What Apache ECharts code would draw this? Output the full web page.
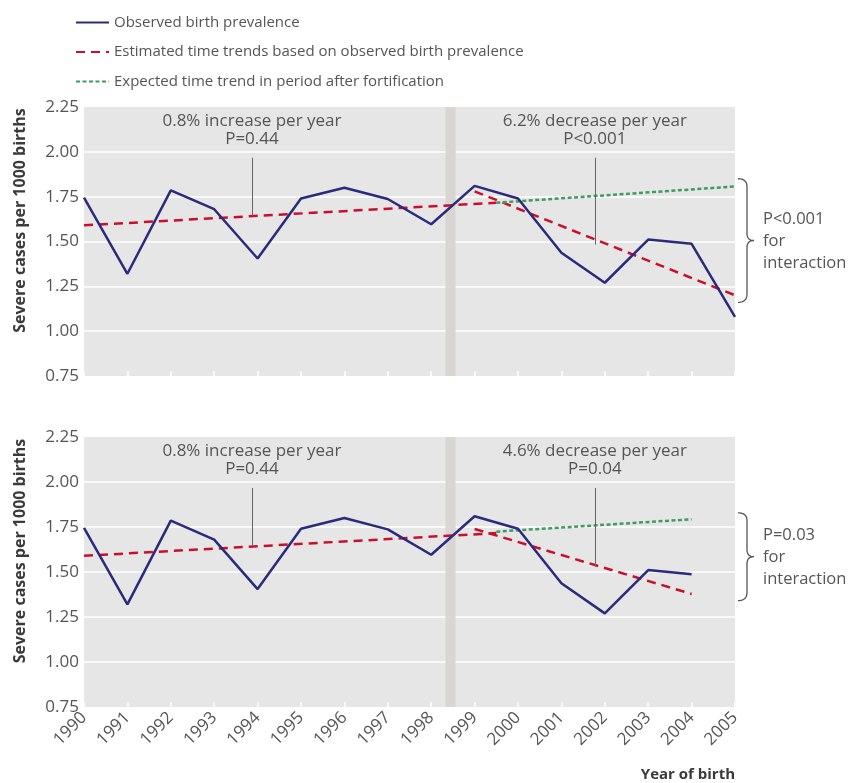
<!DOCTYPE html>
<html>
<head>
<meta charset="utf-8">
<script src="https://cdn.jsdelivr.net/npm/echarts@6/dist/echarts.min.js"></script>
<style>
html,body{margin:0;padding:0;background:#fff;}
#chart{width:849px;height:783px;}
</style>
</head>
<body>
<div id="chart"></div>
<script>
// ---- data ----
const years = [1990,1991,1992,1993,1994,1995,1996,1997,1998,1999,2000,2001,2002,2003,2004,2005];
const observedTop = [1.745,1.32,1.785,1.68,1.405,1.74,1.80,1.737,1.596,1.81,1.74,1.437,1.27,1.511,1.487,1.08];
const observedBottom = [1.745,1.32,1.785,1.68,1.405,1.74,1.80,1.737,1.596,1.81,1.74,1.437,1.27,1.511,1.487];
const preTrendX = [1990, 1999.5];
const preTrendY = [1.59, 1.716];
const postTrendTopX = [1999, 2005];
const postTrendTopY = [1.78, 1.20];
const expectedTopX = [1999.5, 2005];
const expectedTopY = [1.716, 1.807];
const postTrendBottomX = [1999, 2004];
const postTrendBottomY = [1.739, 1.378];
const expectedBottomX = [1999.5, 2004];
const expectedBottomY = [1.724, 1.793];
const fortification = [1998.33, 1998.56];
const annTop = [
  {x: 1993.87, yTop: 1.967, yBot: 1.642, lines: ['0.8% increase per year', 'P=0.44'], ty: 2.12},
  {x: 2001.77, yTop: 1.967, yBot: 1.483, lines: ['6.2% decrease per year', 'P<0.001'], ty: 2.12}
];
const annBottom = [
  {x: 1993.87, yTop: 1.967, yBot: 1.645, lines: ['0.8% increase per year', 'P=0.44'], ty: 2.12},
  {x: 2001.77, yTop: 1.967, yBot: 1.53, lines: ['4.6% decrease per year', 'P=0.04'], ty: 2.12}
];
const braceTop = {yT: 1.85, yB: 1.161, text: 'P<0.001\nfor\ninteraction'};
const braceBottom = {yT: 1.829, yB: 1.341, text: 'P=0.03\nfor\ninteraction'};
const names = ['Observed birth prevalence', 'Estimated time trends based on observed birth prevalence', 'Expected time trend in period after fortification'];

// ---- style ----
const FONT = '"Open Sans", "Noto Sans", sans-serif';
const TXT = '#555555';
const BLUE = '#2b2a7c';
const RED = '#c8102e';
const GREEN = '#3f9b62';

const zip = (xs, ys) => xs.map((x, i) => [x, ys[i]]);

function xAxis(idx, showLabels) {
  return {
    type: 'value', gridIndex: idx, min: 1990, max: 2005, interval: 1,
    axisLine: {show: false},
    axisTick: {show: true, inside: true, length: 5, lineStyle: {color: '#ffffff', width: 1.5}},
    splitLine: {show: false},
    axisLabel: {show: showLabels, rotate: 45, margin: 8, fontSize: 17, color: TXT, fontFamily: FONT,
      formatter: v => String(v)}
  };
}
function yAxis(idx) {
  return {
    type: 'value', gridIndex: idx, min: 0.75, max: 2.25, interval: 0.25,
    axisLine: {show: false}, axisTick: {show: false},
    splitLine: {show: true, showMinLine: false, showMaxLine: false, lineStyle: {color: '#ffffff', width: 1.6}},
    axisLabel: {fontSize: 17, color: TXT, fontFamily: FONT, margin: 5, formatter: v => v.toFixed(2)}
  };
}
function lineSeries(name, data, idx, color, type, z) {
  return {
    name: name, type: 'line', xAxisIndex: idx, yAxisIndex: idx, data: data,
    symbol: 'none', silent: true, z: z || 3,
    lineStyle: {color: color, width: 2.5, type: type},
    itemStyle: {color: color}
  };
}
function annotSeries(idx, anns) {
  return {
    type: 'line', xAxisIndex: idx, yAxisIndex: idx, data: [], silent: true, z: 1,
    markArea: {silent: true, itemStyle: {color: '#d9d5d2'},
      data: [[{xAxis: fortification[0]}, {xAxis: fortification[1]}]]},
    markLine: {silent: true, symbol: 'none', label: {show: false},
      lineStyle: {color: '#666666', width: 1, type: 'solid'},
      data: anns.map(a => [{coord: [a.x, a.yTop]}, {coord: [a.x, a.yBot]}])}
  };
}

const chart = echarts.init(document.getElementById('chart'), null, {renderer: 'canvas'});
chart.setOption({
  animation: false,
  backgroundColor: '#ffffff',
  textStyle: {fontFamily: FONT},
  legend: {
    orient: 'vertical', left: 70, top: 10, itemWidth: 33, itemHeight: 14, itemGap: 14.5,
    selectedMode: false, data: names,
    itemStyle: {opacity: 0},
    textStyle: {fontSize: 15, color: TXT, fontFamily: FONT}
  },
  grid: [
    {left: 84, right: 114, top: 107, height: 269, show: true, backgroundColor: '#e6e6e6', borderWidth: 0},
    {left: 84, right: 114, top: 437, height: 270, show: true, backgroundColor: '#e6e6e6', borderWidth: 0}
  ],
  xAxis: [xAxis(0, false), xAxis(1, true)],
  yAxis: [yAxis(0), yAxis(1)],
  series: [
    annotSeries(0, annTop),
    lineSeries(names[1], zip(preTrendX, preTrendY), 0, RED, [9, 6]),
    lineSeries(names[1], zip(postTrendTopX, postTrendTopY), 0, RED, [9, 6]),
    lineSeries(names[2], zip(expectedTopX, expectedTopY), 0, GREEN, [4, 2.5]),
    lineSeries(names[0], zip(years, observedTop), 0, BLUE, 'solid', 4),
    annotSeries(1, annBottom),
    lineSeries(names[1], zip(preTrendX, preTrendY), 1, RED, [9, 6]),
    lineSeries(names[1], zip(postTrendBottomX, postTrendBottomY), 1, RED, [9, 6]),
    lineSeries(names[2], zip(expectedBottomX, expectedBottomY), 1, GREEN, [4, 2.5]),
    lineSeries(names[0], zip(years.slice(0, observedBottom.length), observedBottom), 1, BLUE, 'solid', 4)
  ]
});

// ---- annotations positioned through the axes ----
const gfx = [];
function px(idx, x, y) { return chart.convertToPixel({xAxisIndex: idx, yAxisIndex: idx}, [x, y]); }
function quad(p0, c, p1, n) {
  const out = [];
  for (let i = 0; i <= n; i++) {
    const t = i / n, u = 1 - t;
    out.push([u * u * p0[0] + 2 * u * t * c[0] + t * t * p1[0], u * u * p0[1] + 2 * u * t * c[1] + t * t * p1[1]]);
  }
  return out;
}
function addAnn(idx, anns, brace) {
  anns.forEach(a => {
    const p = px(idx, a.x, a.ty);
    gfx.push({type: 'text', x: p[0], y: p[1], silent: true,
      style: {text: a.lines.join('\n'), fill: TXT, font: '17px ' + FONT, lineHeight: 18,
        align: 'center', verticalAlign: 'middle'}});
  });
  const right = px(idx, 2005, 1)[0];
  const yT = px(idx, 2005, brace.yT)[1];
  const yB = px(idx, 2005, brace.yB)[1];
  const ym = (yT + yB) / 2;
  const x0 = right + 3, x1 = right + 12, x2 = right + 19;
  let pts = [];
  pts = pts.concat(quad([x0, yT], [x1, yT], [x1, yT + 8], 8));
  pts = pts.concat(quad([x1, ym - 7], [x1, ym], [x2, ym], 8));
  pts = pts.concat(quad([x2, ym], [x1, ym], [x1, ym + 7], 8));
  pts = pts.concat(quad([x1, yB - 8], [x1, yB], [x0, yB], 8));
  gfx.push({type: 'polyline', silent: true, shape: {points: pts},
    style: {fill: null, stroke: '#555555', lineWidth: 1.3}});
  gfx.push({type: 'text', x: right + 28, y: ym + 1, silent: true,
    style: {text: brace.text, fill: TXT, font: '16.5px ' + FONT, lineHeight: 22,
      align: 'left', verticalAlign: 'middle'}});
  const yc = (px(idx, 2005, 2.25)[1] + px(idx, 2005, 0.75)[1]) / 2 - 21;
  gfx.push({type: 'text', x: 20, y: yc, rotation: Math.PI / 2, silent: true,
    style: {text: 'Severe cases per 1000 births', fill: '#3a3a3a', font: 'bold 16px ' + FONT,
      align: 'center', verticalAlign: 'middle'}});
}
addAnn(0, annTop, braceTop);
addAnn(1, annBottom, braceBottom);
gfx.push({type: 'text', x: px(1, 2005, 1)[0], y: 775, silent: true,
  style: {text: 'Year of birth', fill: '#3a3a3a', font: 'bold 15px ' + FONT, align: 'right', verticalAlign: 'middle'}});
chart.setOption({graphic: gfx});
</script>
</body>
</html>
